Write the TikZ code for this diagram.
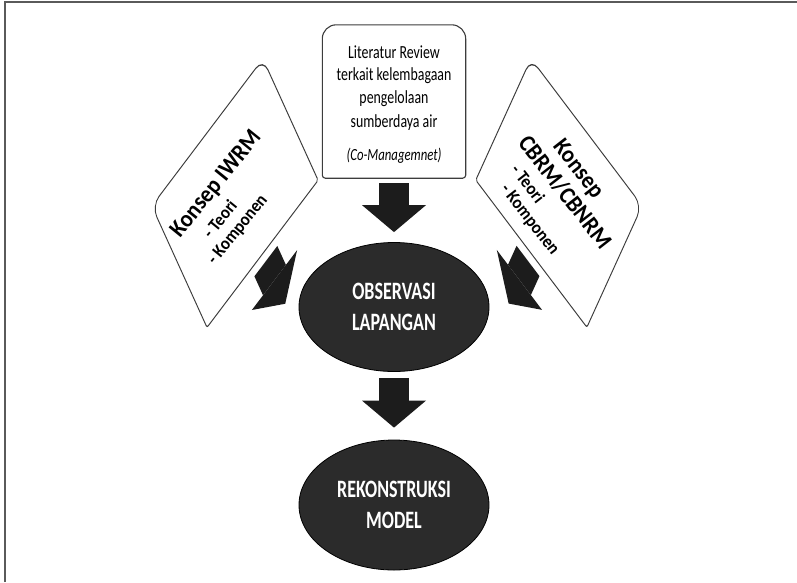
\documentclass[tikz,border=0pt]{standalone}
\usepackage{fontspec}
\setmainfont{Carlito}
\newfontfamily\narrowfont[FakeStretch=0.75]{Carlito}
\newfontfamily\ovalfont[FakeStretch=0.72]{Carlito}
\newfontfamily\sidefont[FakeStretch=0.92]{Carlito}
\usetikzlibrary{shapes.geometric,arrows.meta}
\definecolor{framegray}{HTML}{5A5A5A}
\definecolor{edgegray}{HTML}{3C3C3C}
\definecolor{darkfill}{HTML}{2B2B2B}
\definecolor{arrowblack}{HTML}{1C1C1C}
\begin{document}
\begin{tikzpicture}[x=1pt,y=-1pt,
  pageframe/.style={draw=framegray, line width=1.8pt},
  edge/.style={draw=edgegray, line width=1.1pt},
  cardbox/.style={minimum width=184pt, minimum height=133pt, inner sep=0pt},
  cardtitle/.style={font=\sidefont\bfseries\fontsize{24}{28}\selectfont, inner sep=0pt, anchor=base},
  cardlist/.style={font=\sidefont\bfseries\fontsize{18}{21}\selectfont, inner sep=0pt, anchor=base west},
  littext/.style={font=\narrowfont\fontsize{18.5}{23}\selectfont, inner sep=0pt, anchor=base},
  oval/.style={ellipse, fill=darkfill, draw=black, line width=0.8pt,
    minimum width=190pt, minimum height=129pt, inner sep=0pt,
    text=white, align=center, font=\ovalfont\bfseries\fontsize{25}{31}\selectfont},
  vblock/.style={draw=arrowblack, line width=30pt,
    -{Triangle[length=27pt,width=64pt,line width=0pt]}},
  sideblock/.style={draw=arrowblack, line width=38pt,
    -{Triangle[length=26pt,width=75pt,line width=0pt]}}
]
\useasboundingbox (0,0) rectangle (797,582);

% page frame (top and left rules)
\draw[pageframe] (5,582) -- (5,2) -- (797,2);

% literature review card
\node[minimum width=143pt, minimum height=153pt, inner sep=0pt] (lit) at (394,101.5) {};
\draw[edge] (lit.west) [rounded corners=14pt] -- (lit.north west) -- (lit.north east)
  -- (lit.east) [rounded corners=3pt] -- (lit.south east) -- (lit.south west) -- cycle;
\node[littext] (lit1) at (394,58) {Literatur Review};
\node[littext] (lit2) at (394,80) {terkait kelembagaan};
\node[littext] (lit3) at (394,103) {pengelolaan};
\node[littext] (lit4) at (394,127) {sumberdaya air};
\node[littext, font=\narrowfont\itshape\fontsize{17}{20}\selectfont] (lit5) at (394,160) {(Co-Managemnet)};

% central ellipses
\node[oval] (obs) at (394,307) {OBSERVASI\\LAPANGAN};
\node[oval, minimum height=130pt] (rek) at (394,505) {REKONSTRUKSI\\MODEL};

% vertical block arrows
\draw[vblock, shorten <=5pt, shorten >=10pt] (lit.south) -- (obs.north);
\draw[vblock, shorten <=6pt, shorten >=12pt] (obs.south) -- (rek.north);

% left card: IWRM (slanted frame and arrow)
\begin{scope}[transform canvas={cm={0.6026,0.798,-0.4138,0.9104,(152pt,-206pt)}}]
  \node[cardbox] (iwrm) at (92,66.5) {};
  \draw[edge] (iwrm.west) [rounded corners=12pt] -- (iwrm.north west) -- (iwrm.north east)
    -- (iwrm.east) [rounded corners=2pt] -- (iwrm.south east) -- (iwrm.south west) -- cycle;
  \coordinate (iwrmtip) at (92,188);
  \draw[sideblock, shorten <=8pt] (iwrm.south) -- (iwrmtip);
\end{scope}
\node[cardtitle, rotate=51] (iwrmtitle) at (221,188) {Konsep IWRM};
\node[cardlist, rotate=51] (iwrmteori) at (211,239.5) {- Teori};
\node[cardlist, rotate=51] (iwrmkomp) at (215,265.5) {- Komponen};

% right card: CBRM/CBNRM (slanted frame and arrow)
\begin{scope}[transform canvas={cm={0.6026,-0.798,0.4138,0.9104,(531pt,-59pt)}}]
  \node[cardbox] (cbrm) at (92,66.5) {};
  \draw[edge] (cbrm.west) [rounded corners=12pt] -- (cbrm.north west) -- (cbrm.north east)
    -- (cbrm.east) [rounded corners=2pt] -- (cbrm.south east) -- (cbrm.south west) -- cycle;
  \coordinate (cbrmtip) at (92,188);
  \draw[sideblock, shorten <=8pt] (cbrm.south) -- (cbrmtip);
\end{scope}
\node[cardtitle, rotate=-52] (cbrmtitle) at (573,173) {Konsep};
\node[cardtitle, rotate=-52] (cbrmname) at (559,197) {CBRM/CBNRM};
\node[cardlist, rotate=-52] (cbrmteori) at (510,170.5) {- Teori};
\node[cardlist, rotate=-52] (cbrmkomp) at (500,189.5) {- Komponen};
\end{tikzpicture}
\end{document}
